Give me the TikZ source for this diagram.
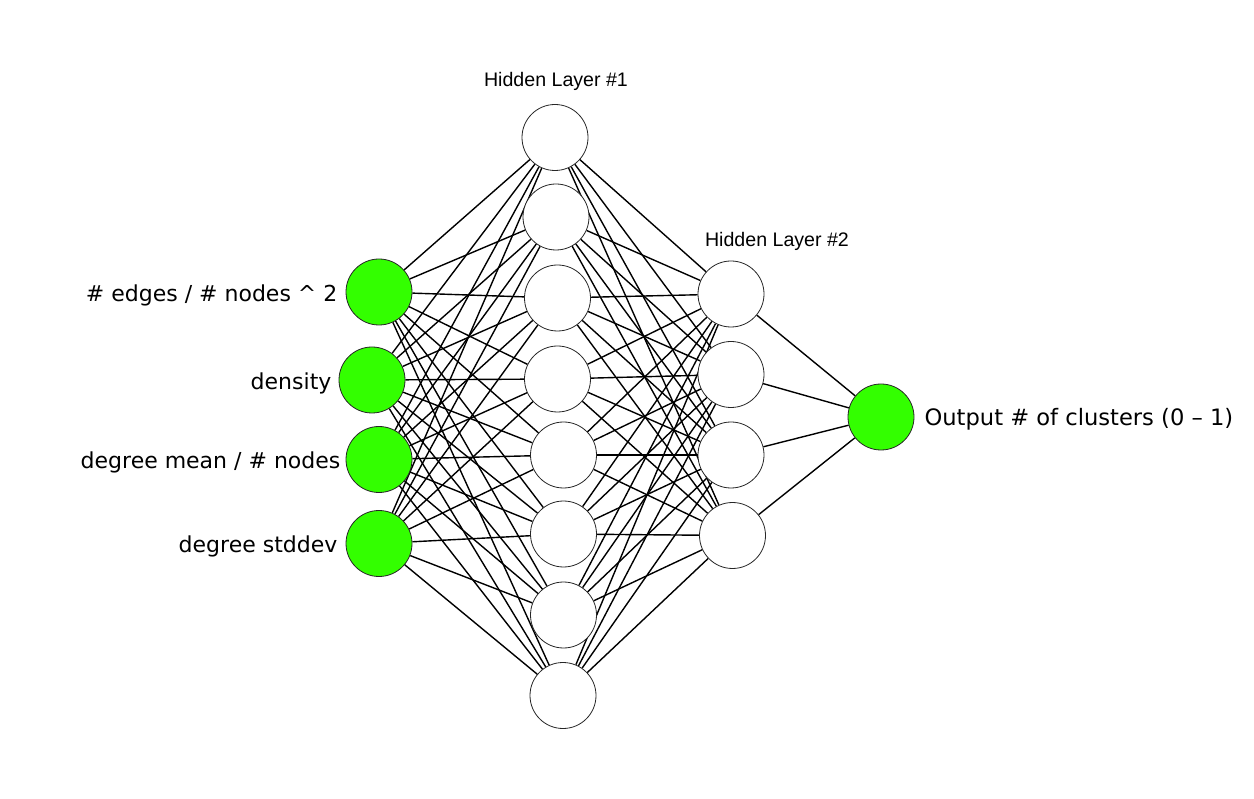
\documentclass[tikz,border=0pt]{standalone}
\usepackage{fontspec}
\newfontfamily\lblfont{DejaVu Sans}
\newfontfamily\hdrfont{Liberation Sans}
\usetikzlibrary{backgrounds}
\definecolor{neurongreen}{RGB}{51,255,0}
\tikzset{
  neuron/.style={circle, draw=black!85, line width=0.8pt, fill=white, minimum size=66pt, inner sep=0pt},
  inneuron/.style={neuron, fill=neurongreen},
  conn/.style={draw=black, line width=1.4pt},
  inlabel/.style={font=\lblfont\fontsize{22}{26}\selectfont, inner sep=0pt, anchor=east},
  outlabel/.style={font=\lblfont\fontsize{22.6}{26}\selectfont, inner sep=0pt, anchor=west},
  hdr/.style={font=\hdrfont\fontsize{19.6}{23}\selectfont, inner sep=0pt}
}
\begin{document}
\begin{tikzpicture}[x=1pt,y=-1pt]
\useasboundingbox (0,0) rectangle (1254,799);
% input layer
\node[inneuron] (i1) at (379,292) {};
\node[inneuron] (i2) at (372,380) {};
\node[inneuron] (i3) at (379,459.5) {};
\node[inneuron] (i4) at (379,543.5) {};
% hidden layer 1
\node[neuron] (a1) at (555,137.5) {};
\node[neuron] (a2) at (556,217) {};
\node[neuron] (a3) at (557.5,298) {};
\node[neuron] (a4) at (557.5,379) {};
\node[neuron] (a5) at (563.5,455) {};
\node[neuron] (a6) at (563.5,534) {};
\node[neuron] (a7) at (563.5,615) {};
\node[neuron] (a8) at (563,695.5) {};
% hidden layer 2
\node[neuron] (b1) at (731,294) {};
\node[neuron] (b2) at (731,374.5) {};
\node[neuron] (b3) at (731,455) {};
\node[neuron] (b4) at (732.5,535.5) {};
% output
\node[inneuron] (o) at (881,417) {};
% labels
\node[inlabel] (l1) at ([xshift=-8pt,yshift=-3pt]i1.west) {\# edges / \# nodes \textasciicircum{} 2};
\node[inlabel] (l2) at ([xshift=-7pt,yshift=-3pt]i2.west) {density};
\node[inlabel] (l3) at ([xshift=-5pt,yshift=-3pt]i3.west) {degree mean / \# nodes};
\node[inlabel] (l4) at ([xshift=-8pt,yshift=-3pt]i4.west) {degree stddev};
\node[outlabel] (lo) at ([xshift=10pt,yshift=-2pt]o.east) {Output \# of clusters (0 – 1)};
\node[hdr] (h1) at (556,81) {Hidden Layer \#1};
\node[hdr] (h2) at (777,241) {Hidden Layer \#2};
% connectors
\begin{scope}[on background layer]
\foreach \i in {1,...,4}
  \foreach \a in {1,...,8}
    \draw[conn] (i\i) -- (a\a);
\foreach \a in {1,...,8}
  \foreach \b in {1,...,4}
    \draw[conn] (a\a) -- (b\b);
\foreach \b in {1,...,4}
  \draw[conn] (b\b) -- (o);
\end{scope}
\end{tikzpicture}
\end{document}
